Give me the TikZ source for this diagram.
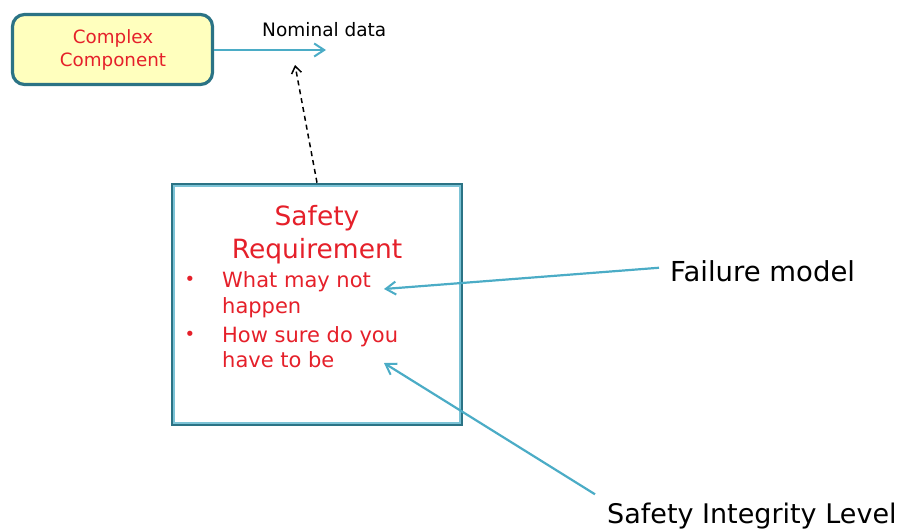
\documentclass[tikz,border=0pt]{standalone}
\usepackage{fontspec}
\setmainfont{DejaVu Sans}
\usetikzlibrary{arrows.meta}

\definecolor{tealdark}{HTML}{2B7385}
\definecolor{teallight}{HTML}{7CC3D6}
\definecolor{arrowblue}{HTML}{4BACC6}
\definecolor{boxfill}{HTML}{FFFFBE}
\definecolor{reqred}{HTML}{E5202A}

\tikzset{
  compbox/.style={rectangle, rounded corners=12pt, draw=tealdark, line width=3.2pt,
    fill=boxfill, minimum width=200pt, minimum height=70pt, inner sep=0pt},
  reqbox/.style={rectangle, draw=tealdark, line width=4.6pt,
    minimum width=288pt, minimum height=239pt, inner sep=0pt},
  redtxt/.style={text=reqred, inner sep=0pt, anchor=base},
  blacktxt/.style={text=black, inner sep=0pt, anchor=base west},
  bluearrow/.style={draw=arrowblue, line width=2.2pt,
    -{Straight Barb[length=10pt, width=13pt, line width=2pt]}},
  dasharrow/.style={draw=black, line width=1.5pt, dash pattern=on 5pt off 4pt,
    -{Straight Barb[length=7pt, width=10pt, line width=1.5pt]}}
}

\begin{document}
\begin{tikzpicture}[x=1pt, y=-1pt]
\useasboundingbox (0,0) rectangle (899,530);

% component box
\node[compbox] (cc) at (112.5,49.5) {};
\node[redtxt, font=\fontsize{18.3}{22}\selectfont] (cc1) at (113,43) {Complex};
\node[redtxt, font=\fontsize{18.3}{22}\selectfont] (cc2) at (113,66) {Component};

% nominal data output
\coordinate (ndtip) at (326,50);
\node[blacktxt, font=\fontsize{18.5}{22}\selectfont] (nd) at (262,36) {Nominal data};
\draw[bluearrow] (cc.east |- ndtip) -- (ndtip);

% safety requirement box (double frame)
\node[reqbox] (sr) at (317,304.5) {};
\draw[teallight, line width=2.2pt]
  ([shift={(3.6,3.6)}]sr.north west) rectangle ([shift={(-3.6,-3.6)}]sr.south east);

\node[redtxt, font=\fontsize{26.5}{30}\selectfont] (t1) at (317,225) {Safety};
\node[redtxt, font=\fontsize{26.5}{30}\selectfont] (t2) at (317,258) {Requirement};

\node[redtxt, font=\fontsize{18}{20}\selectfont] (b1) at (190,285) {•};
\node[blacktxt, text=reqred, font=\fontsize{21}{25}\selectfont] (l1) at (222,287) {What may not};
\node[blacktxt, text=reqred, font=\fontsize{21}{25}\selectfont] (l2) at (222,313) {happen};
\node[redtxt, font=\fontsize{18}{20}\selectfont] (b2) at (190,340) {•};
\node[blacktxt, text=reqred, font=\fontsize{21}{25}\selectfont] (l3) at (222,342) {How sure do you};
\node[blacktxt, text=reqred, font=\fontsize{21}{25}\selectfont] (l4) at (222,367) {have to be};

% dependency on nominal data
\coordinate (dtip) at (295,65);
\draw[dasharrow] (sr.north) -- (dtip);

% annotations
\node[blacktxt, font=\fontsize{27.5}{32}\selectfont] (fm) at (670,281) {Failure model};
\node[blacktxt, font=\fontsize{27}{32}\selectfont] (sil) at (607,523) {Safety Integrity Level};

\coordinate (fmtip) at (384,289);
\coordinate (siltip) at (384,363);
\draw[bluearrow] ([xshift=-11pt, yshift=3pt]fm.west) -- (fmtip);
\draw[bluearrow] ([shift={(-12,-8)}]sil.north west) -- (siltip);
\end{tikzpicture}
\end{document}
